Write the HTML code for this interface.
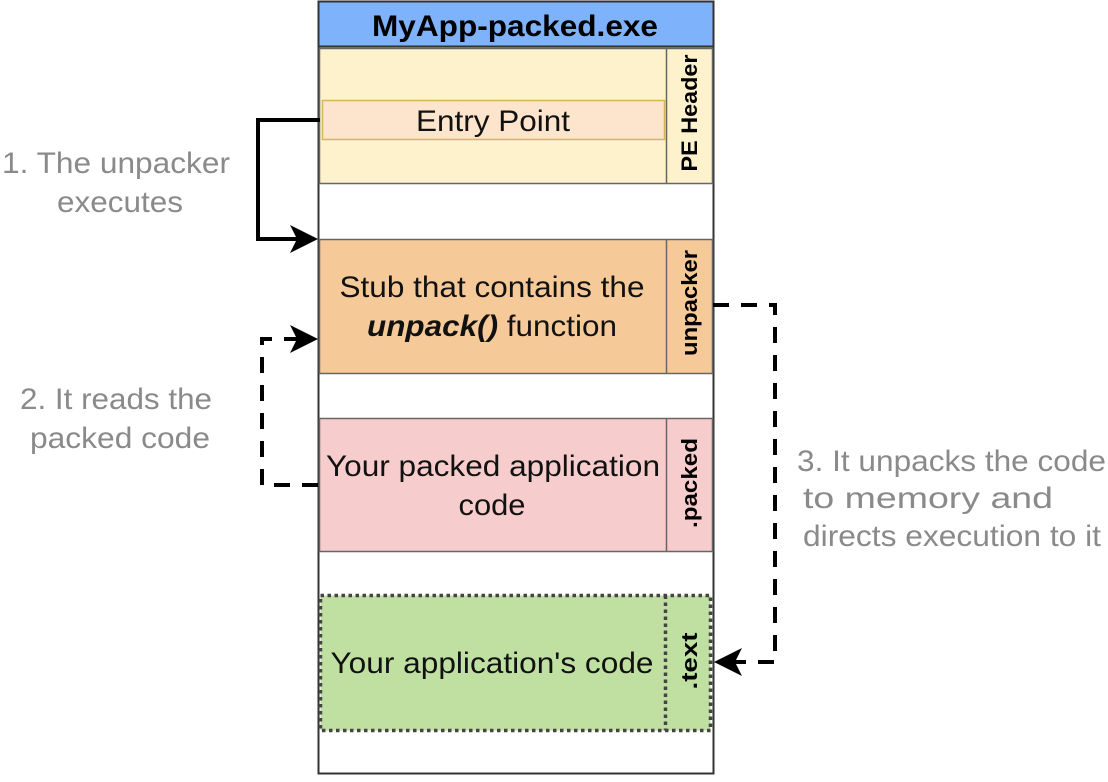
<!DOCTYPE html>
<html><head><meta charset="utf-8"><style>
html,body{margin:0;padding:0;background:#fff;}
svg text{font-family:"Liberation Sans",sans-serif;}
</style></head><body>
<svg width="1108" height="777" viewBox="0 0 1108 777" xmlns="http://www.w3.org/2000/svg">
<rect x="318.5" y="1.5" width="395" height="772" fill="#fff" stroke="#333" stroke-width="2"/>
<rect x="318.5" y="1.5" width="395" height="45" fill="#7eb2fb" stroke="#333" stroke-width="2"/>
<text x="515" y="36" font-size="30" font-weight="bold" text-anchor="middle" fill="#000" textLength="286" lengthAdjust="spacingAndGlyphs">MyApp-packed.exe</text>

<rect x="319.5" y="48.5" width="393" height="135" fill="#fdf2cc" stroke="#666" stroke-width="1.5"/>
<line x1="666.5" y1="48.5" x2="666.5" y2="183.5" stroke="#666" stroke-width="1.5"/>
<rect x="322.5" y="100.5" width="342" height="39" fill="#fce5cc" stroke="#d6b656" stroke-width="1.5"/>
<text x="493" y="131" font-size="30" text-anchor="middle" fill="#111" textLength="154" lengthAdjust="spacingAndGlyphs">Entry Point</text>
<text transform="translate(697,113) rotate(-90)" font-size="22" font-weight="bold" text-anchor="middle" fill="#000" textLength="117" lengthAdjust="spacingAndGlyphs">PE Header</text>

<rect x="319.5" y="239.5" width="393" height="134" fill="#f6ca98" stroke="#666" stroke-width="1.5"/>
<line x1="666.5" y1="239.5" x2="666.5" y2="373.5" stroke="#666" stroke-width="1.5"/>
<text x="492" y="297" font-size="30" text-anchor="middle" fill="#111" textLength="305" lengthAdjust="spacingAndGlyphs">Stub that contains the</text>
<text x="492" y="336" font-size="30" text-anchor="middle" fill="#111" textLength="250" lengthAdjust="spacingAndGlyphs"><tspan font-weight="bold" font-style="italic">unpack()</tspan> function</text>
<text transform="translate(697,303) rotate(-90)" font-size="22" font-weight="bold" text-anchor="middle" fill="#000" textLength="106" lengthAdjust="spacingAndGlyphs">unpacker</text>

<rect x="319.5" y="418.5" width="393" height="133" fill="#f6cccc" stroke="#666" stroke-width="1.5"/>
<line x1="666.5" y1="418.5" x2="666.5" y2="551.5" stroke="#666" stroke-width="1.5"/>
<text x="493" y="476" font-size="30" text-anchor="middle" fill="#111" textLength="334" lengthAdjust="spacingAndGlyphs">Your packed application</text>
<text x="492" y="515" font-size="30" text-anchor="middle" fill="#111" textLength="67" lengthAdjust="spacingAndGlyphs">code</text>
<text transform="translate(697,483) rotate(-90)" font-size="22" font-weight="bold" text-anchor="middle" fill="#000" textLength="90" lengthAdjust="spacingAndGlyphs">.packed</text>

<rect x="320.5" y="595.5" width="390" height="135" fill="#c0e0a2" stroke="#444" stroke-width="3.5" stroke-dasharray="3.5,3.5"/>
<line x1="665.5" y1="595.5" x2="665.5" y2="730.5" stroke="#444" stroke-width="3.5" stroke-dasharray="3.5,3.5"/>
<text x="492" y="673" font-size="30" text-anchor="middle" fill="#111" textLength="323" lengthAdjust="spacingAndGlyphs">Your application's code</text>
<text transform="translate(697,661) rotate(-90)" font-size="22" font-weight="bold" text-anchor="middle" fill="#000" textLength="57" lengthAdjust="spacingAndGlyphs">.text</text>

<!-- arrow 1 -->
<polyline points="320,120 258,120 258,239 300,239" fill="none" stroke="#000" stroke-width="4"/>
<polygon points="318,239 290,225 297,239 290,253" fill="#000"/>
<!-- arrow 2 -->
<polyline points="318,485 262,485 262,339 300,339" fill="none" stroke="#000" stroke-width="4" stroke-dasharray="16,12"/>
<polygon points="318,339 290,325 297,339 290,353" fill="#000"/>
<!-- arrow 3 -->
<polyline points="713,305 775,305 775,662 735,662" fill="none" stroke="#000" stroke-width="4" stroke-dasharray="16,12"/>
<polygon points="714,662 742,648 735,662 742,676" fill="#000"/>

<g font-size="30" fill="#8a8a8a" lengthAdjust="spacingAndGlyphs">
<text x="2" y="173" textLength="228" lengthAdjust="spacingAndGlyphs">1. The unpacker</text>
<text x="57" y="212" textLength="126" lengthAdjust="spacingAndGlyphs">executes</text>
<text x="20" y="409" textLength="192" lengthAdjust="spacingAndGlyphs">2. It reads the</text>
<text x="30" y="448" textLength="180" lengthAdjust="spacingAndGlyphs">packed code</text>
<text x="797" y="471" textLength="309" lengthAdjust="spacingAndGlyphs">3. It unpacks the code</text>
<text x="803" y="508" textLength="250" lengthAdjust="spacingAndGlyphs">to memory and</text>
<text x="803" y="546" textLength="298" lengthAdjust="spacingAndGlyphs">directs execution to it</text>
</g>
</svg>
</body></html>
